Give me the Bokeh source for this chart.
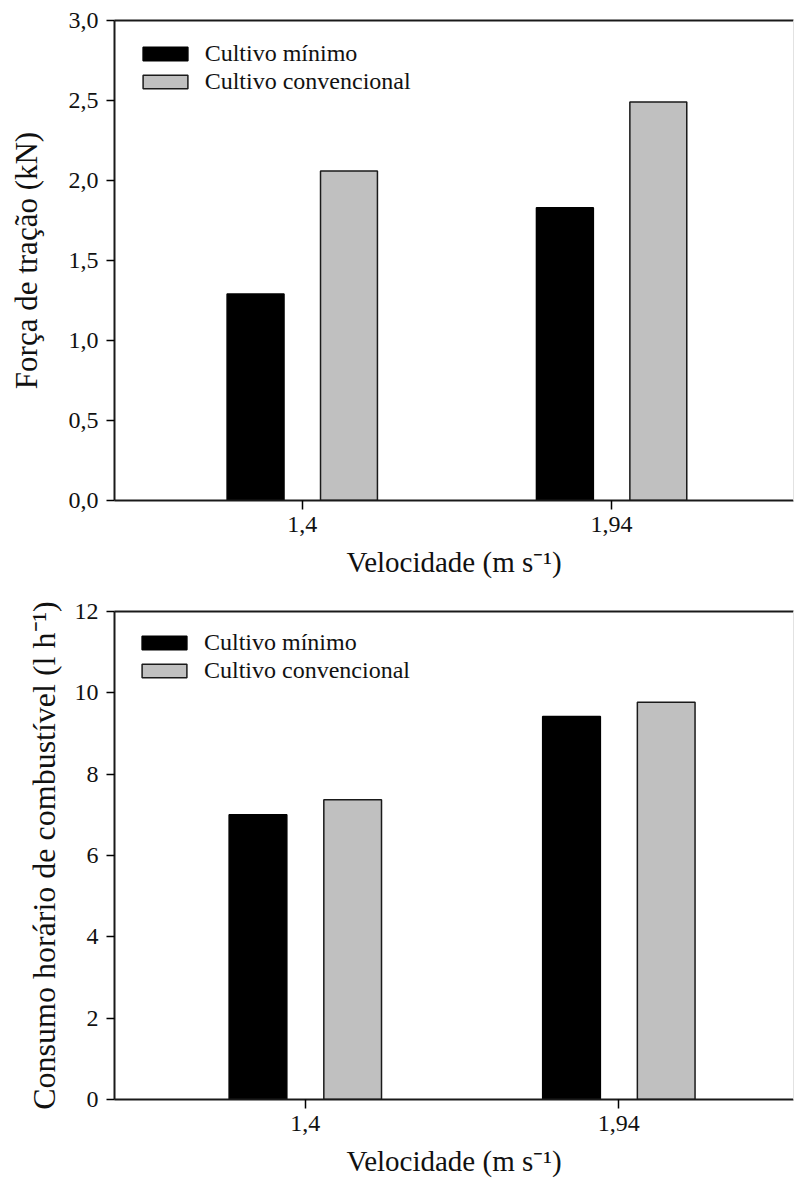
from bokeh.plotting import figure
from bokeh.models import (Range1d, FixedTicker, LinearAxis, CustomJSTickFormatter,
                          Legend, LegendItem, ColumnDataSource)
from bokeh.layouts import column
from bokeh.transform import dodge
from bokeh.embed import file_html
from bokeh.resources import INLINE

# Data
velocidades = ["1,4", "1,94"]          # velocity categories (m s-1)
posicao = [0, 1]                       # slot of each velocity on the x axis
series = ["Cultivo mínimo", "Cultivo convencional"]

forca_minimo = [1.29, 1.83]            # draft force (kN)
forca_convencional = [2.06, 2.49]

consumo_minimo = [7.00, 9.42]          # hourly fuel consumption (l h-1)
consumo_convencional = [7.37, 9.77]

forca_ticks = [0.0, 0.5, 1.0, 1.5, 2.0, 2.5, 3.0]
consumo_ticks = [0, 2, 4, 6, 8, 10, 12]

FONT = "Liberation Serif"
AXIS_COLOR = "#1a1a1a"
TEXT_COLOR = "#111111"
GRAY = "#c0c0c0"
BAR_W = 0.184
OFFSET = 0.151


def painel(minimo, convencional, y_end, y_ticks, decimals, y_label, y_label_size,
           height, top, bottom, left, x_start, x_end, y_label_standoff, legend_xy):
    p = figure(width=795, height=height,
               x_range=Range1d(x_start, x_end), y_range=Range1d(0, y_end),
               x_axis_type=None, y_axis_type=None,
               output_backend="svg", toolbar_location=None,
               min_border_top=top, min_border_bottom=bottom,
               min_border_left=left, min_border_right=2)
    p.outline_line_color = None
    p.background_fill_color = "white"
    p.border_fill_color = "white"

    src = ColumnDataSource(dict(x=posicao, minimo=minimo, convencional=convencional))
    r1 = p.vbar(x=dodge("x", -OFFSET), top="minimo", width=BAR_W, source=src,
                fill_color="black", line_color="black", line_width=1.5)
    r2 = p.vbar(x=dodge("x", OFFSET), top="convencional", width=BAR_W, source=src,
                fill_color=GRAY, line_color=AXIS_COLOR, line_width=1.5)

    # y axis
    yfmt = CustomJSTickFormatter(args=dict(d=decimals),
                                 code="return tick.toFixed(d).replace('.', ',');")
    ya = LinearAxis(ticker=FixedTicker(ticks=y_ticks), formatter=yfmt,
                    axis_label=y_label)
    ya.axis_line_width = 2
    ya.axis_line_color = AXIS_COLOR
    ya.major_tick_out = 8
    ya.major_tick_in = 0
    ya.major_tick_line_width = 1.5
    ya.minor_tick_line_color = None
    ya.major_label_standoff = 8
    ya.major_label_text_font = FONT
    ya.major_label_text_font_size = "24px"
    ya.major_label_text_color = TEXT_COLOR
    ya.axis_label_text_font = FONT
    ya.axis_label_text_font_style = "normal"
    ya.axis_label_text_font_size = y_label_size
    ya.axis_label_text_color = TEXT_COLOR
    ya.axis_label_standoff = y_label_standoff
    p.add_layout(ya, "left")

    # x axis
    xfmt = CustomJSTickFormatter(args=dict(labels=velocidades),
                                 code="const i = Math.round(tick); return labels[i] ?? '';")
    xa = LinearAxis(ticker=FixedTicker(ticks=posicao), formatter=xfmt,
                    axis_label="Velocidade (m s⁻¹)")
    xa.axis_line_width = 2
    xa.axis_line_color = AXIS_COLOR
    xa.major_tick_out = 9
    xa.major_tick_in = 0
    xa.major_tick_line_width = 1.5
    xa.minor_tick_line_color = None
    xa.major_label_standoff = 7
    xa.major_label_text_font = FONT
    xa.major_label_text_font_size = "24px"
    xa.major_label_text_color = TEXT_COLOR
    xa.axis_label_text_font = FONT
    xa.axis_label_text_font_style = "normal"
    xa.axis_label_text_font_size = "29px"
    xa.axis_label_text_color = TEXT_COLOR
    xa.axis_label_standoff = 11
    p.add_layout(xa, "below")

    # top frame line and faint right edge
    ta = LinearAxis(ticker=FixedTicker(ticks=[]))
    ta.axis_line_width = 2
    ta.axis_line_color = AXIS_COLOR
    ta.major_tick_line_color = None
    ta.minor_tick_line_color = None
    p.add_layout(ta, "above")

    ra = LinearAxis(ticker=FixedTicker(ticks=[]))
    ra.axis_line_width = 1
    ra.axis_line_color = "#e2e2e2"
    ra.major_tick_line_color = None
    ra.minor_tick_line_color = None
    p.add_layout(ra, "right")

    legend = Legend(items=[LegendItem(label=series[0], renderers=[r1]),
                           LegendItem(label=series[1], renderers=[r2])],
                    location=legend_xy)
    legend.glyph_width = 56
    legend.glyph_height = 17
    legend.label_height = 25
    legend.label_standoff = 12
    legend.label_text_font = FONT
    legend.label_text_font_size = "24px"
    legend.label_text_color = TEXT_COLOR
    legend.padding = 0
    legend.margin = 0
    legend.spacing = 1
    legend.border_line_color = None
    legend.background_fill_alpha = 0
    p.add_layout(legend)
    return p


p1 = painel(forca_minimo, forca_convencional, 3.0, forca_ticks, 1,
            "Força de tração (kN)", "31px",
            height=590, top=20, bottom=90, left=114,
            x_start=-0.607, x_end=1.588, y_label_standoff=22,
            legend_xy=(22.7, 405))

p2 = painel(consumo_minimo, consumo_convencional, 12, consumo_ticks, 0,
            "Consumo horário de combustível (l h⁻¹)", "32px",
            height=589, top=21, bottom=77, left=111,
            x_start=-0.6086, x_end=1.557, y_label_standoff=10,
            legend_xy=(22, 415))

layout = column(p1, p2, spacing=0)

open("out.html", "w").write(file_html(layout, INLINE))
